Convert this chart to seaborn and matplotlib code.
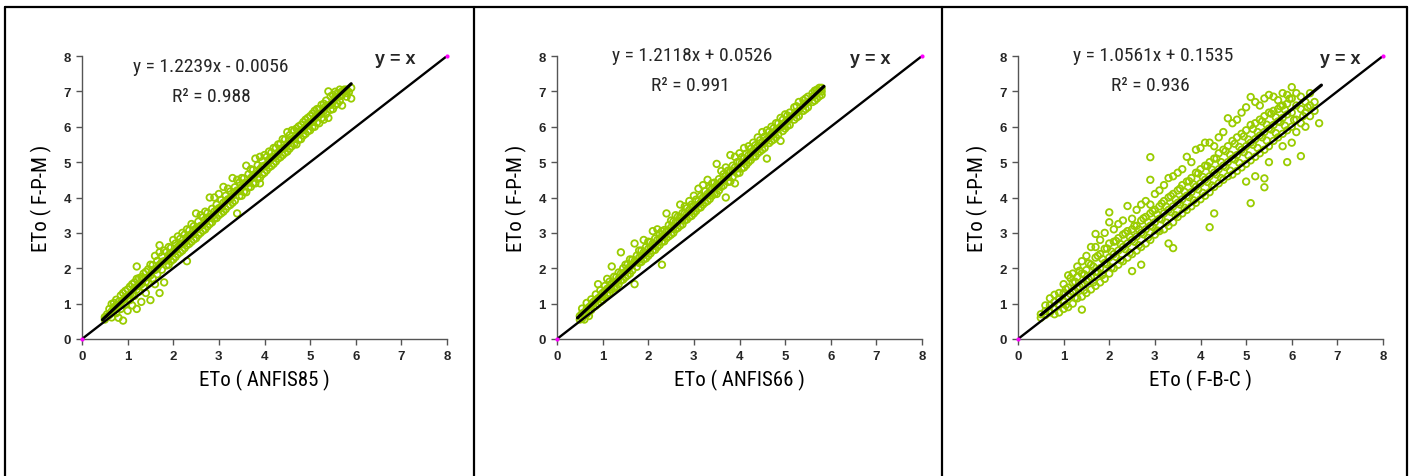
import matplotlib
matplotlib.use("Agg")
import matplotlib.pyplot as plt
import seaborn as sns
import pandas as pd
from matplotlib import font_manager as fm
from matplotlib.lines import Line2D

# ---------------- data ----------------
x_labels = ["ETo ( ANFIS85 )", "ETo ( ANFIS66 )", "ETo ( F-B-C )"]
y_label = "ETo ( F-P-M )"
equations = ["y = 1.2239x - 0.0056", "y = 1.2118x + 0.0526", "y = 1.0561x + 0.1535"]
r2_texts = ["R² = 0.988", "R² = 0.991", "R² = 0.936"]
slopes = [1.2239, 1.2118, 1.0561]
intercepts = [-0.0056, 0.0526, 0.1535]
fit_ranges = [(0.45, 5.9), (0.45, 5.85), (0.5, 6.65)]
identity_x = [0, 8]
ticks = [0, 1, 2, 3, 4, 5, 6, 7, 8]

# panel 1 (ANFIS85) - grouped columns of points
p1_xg = [0.5, 0.6, 0.7, 0.8, 0.9, 1.0, 1.1, 1.2, 1.3, 1.4, 1.5, 1.6, 1.7, 1.8, 1.9,
         2.0, 2.1, 2.2, 2.3, 2.4, 2.5, 2.6, 2.7, 2.8, 2.9, 3.0, 3.1, 3.2, 3.3, 3.4,
         3.5, 3.6, 3.7, 3.8, 3.9, 4.0, 4.1, 4.2, 4.3, 4.4, 4.5, 4.6, 4.7, 4.8, 4.9,
         5.0, 5.1, 5.2, 5.3, 5.4, 5.5, 5.6, 5.7, 5.8, 5.9]
p1_yg = [[0.55, 0.62], [0.85, 0.68], [1.02, 0.80, 0.90], [1.05, 0.60, 0.95],
         [1.30, 0.52, 1.10], [1.40, 1.15, 0.80], [1.55, 1.25, 0.95], [1.70, 1.40, 2.05, 0.85],
         [1.75, 1.55, 1.05], [1.90, 1.62, 1.30], [2.10, 1.80, 1.10], [2.35, 1.95, 1.55],
         [2.65, 2.10, 1.30, 2.45], [2.50, 2.20, 1.60], [2.60, 2.30, 2.10], [2.80, 2.45, 2.25],
         [2.90, 2.60, 2.40], [3.00, 2.70, 2.50], [3.10, 2.85, 2.20, 2.65], [3.25, 2.95, 2.75],
         [3.55, 3.10, 2.85], [3.50, 3.20, 3.00], [3.60, 3.30, 3.10], [4.00, 3.45, 3.25],
         [4.00, 3.60, 3.40], [4.10, 3.70, 3.50], [4.30, 3.85, 3.60], [4.25, 3.95, 3.75],
         [4.55, 4.05, 3.85], [4.50, 4.20, 3.55], [4.55, 4.30, 4.05], [4.90, 4.40, 4.15],
         [4.80, 4.55, 4.30], [5.10, 4.65, 4.40], [5.15, 4.80, 4.40, 4.55], [5.20, 4.90, 4.70],
         [5.30, 5.05, 4.85], [5.40, 5.15, 4.95], [5.50, 5.25, 5.10], [5.65, 5.40, 5.20],
         [5.85, 5.50, 5.30], [5.90, 5.65, 5.45], [5.95, 5.75, 5.50], [6.05, 5.90, 5.65],
         [6.20, 6.00, 5.80], [6.30, 6.10, 5.90], [6.45, 6.25, 6.00], [6.50, 6.35, 6.10],
         [6.65, 6.45, 6.20], [7.00, 6.60, 6.25], [6.90, 6.70, 6.50], [6.95, 6.85, 6.65],
         [7.00, 6.90, 6.60], [7.05, 6.95, 6.85], [7.10, 6.80]]
p1_core_x = [0.55, 0.65, 0.75, 0.85, 0.95, 1.05, 1.15, 1.25, 1.35, 1.45, 1.55, 1.65, 1.75,
             1.85, 1.95, 2.05, 2.15, 2.25, 2.35, 2.45, 2.55, 2.65, 2.75, 2.85, 2.95, 3.05,
             3.15, 3.25, 3.35, 3.45, 3.55, 3.65, 3.75, 3.85, 3.95, 4.05, 4.15, 4.25, 4.35,
             4.45, 4.55, 4.65, 4.75, 4.85, 4.95, 5.05, 5.15, 5.25, 5.35, 5.45, 5.55, 5.65,
             5.75, 5.85]
p1_core_y = [0.70, 0.78, 0.95, 1.02, 1.18, 1.25, 1.45, 1.50, 1.70, 1.75, 1.95, 2.00, 2.18,
             2.22, 2.42, 2.50, 2.68, 2.72, 2.92, 2.97, 3.15, 3.22, 3.40, 3.45, 3.65, 3.70,
             3.90, 3.95, 4.15, 4.18, 4.40, 4.42, 4.63, 4.68, 4.88, 4.92, 5.12, 5.16, 5.37,
             5.40, 5.62, 5.65, 5.86, 5.90, 6.10, 6.14, 6.35, 6.38, 6.60, 6.62, 6.84, 6.86,
             7.05, 6.98]
p1_band_x = [0.65, 0.75, 0.85, 0.95, 1.05, 1.15, 1.25, 1.35, 1.45, 1.55, 1.65, 1.75, 1.85,
             1.95, 2.05, 2.15, 2.25, 2.35, 2.45, 2.55, 2.65, 2.75, 2.85, 2.95, 3.05, 3.15,
             3.25, 3.35, 3.45, 3.55, 3.65, 3.75, 3.85, 3.95, 4.05, 4.15, 4.25, 4.35, 4.45,
             4.55, 4.65, 4.75, 4.85, 4.95, 5.05, 5.15, 5.25, 5.35, 5.45, 5.55, 5.65]
p1_band_hi = [0.99, 1.11, 1.23, 1.36, 1.48, 1.60, 1.72, 1.85, 1.97, 2.09, 2.21, 2.34, 2.46,
              2.58, 2.70, 2.83, 2.95, 3.07, 3.19, 3.32, 3.44, 3.56, 3.68, 3.80, 3.93, 4.05,
              4.17, 4.29, 4.42, 4.54, 4.66, 4.78, 4.91, 5.03, 5.15, 5.27, 5.40, 5.52, 5.64,
              5.76, 5.89, 6.01, 6.13, 6.25, 6.37, 6.50, 6.62, 6.74, 6.86, 6.99, 7.05]
p1_band_lo = [0.61, 0.73, 0.85, 0.98, 1.10, 1.22, 1.34, 1.47, 1.59, 1.71, 1.83, 1.96, 2.08,
              2.20, 2.32, 2.45, 2.57, 2.69, 2.81, 2.94, 3.06, 3.18, 3.30, 3.42, 3.55, 3.67,
              3.79, 3.91, 4.04, 4.16, 4.28, 4.40, 4.53, 4.65, 4.77, 4.89, 5.02, 5.14, 5.26,
              5.38, 5.51, 5.63, 5.75, 5.87, 5.99, 6.12, 6.24, 6.36, 6.48, 6.61, 6.73]

# panel 2 (ANFIS66)
p2_xg = [0.5, 0.6, 0.7, 0.8, 0.9, 1.0, 1.1, 1.2, 1.3, 1.4, 1.5, 1.6, 1.7, 1.8, 1.9,
         2.0, 2.1, 2.2, 2.3, 2.4, 2.5, 2.6, 2.7, 2.8, 2.9, 3.0, 3.1, 3.2, 3.3, 3.4,
         3.5, 3.6, 3.7, 3.8, 3.9, 4.0, 4.1, 4.2, 4.3, 4.4, 4.5, 4.6, 4.7, 4.8, 4.9,
         5.0, 5.1, 5.2, 5.3, 5.4, 5.5, 5.6, 5.7, 5.8]
p2_yg = [[0.55, 0.65], [0.75, 0.55], [0.90, 0.78, 0.65], [1.05, 0.90],
         [1.55, 1.15, 1.00], [1.30, 1.20, 1.10], [1.70, 1.42, 1.25], [2.05, 1.55, 1.40],
         [1.75, 1.62, 1.45], [2.45, 1.85, 1.65], [2.10, 1.90, 1.75], [2.25, 2.05, 1.85],
         [2.70, 2.20, 1.55], [2.50, 2.30, 2.15], [2.80, 2.45, 2.25], [2.75, 2.55, 2.35],
         [3.05, 2.70, 2.50], [3.10, 2.80, 2.60], [3.05, 2.90, 2.10, 2.75], [3.55, 3.05, 2.85],
         [3.35, 3.15, 2.95], [3.50, 3.30, 3.10], [3.80, 3.45, 3.20], [3.75, 3.55, 3.35],
         [3.90, 3.65, 3.45], [4.05, 3.75, 3.55], [4.25, 3.90, 3.70], [4.35, 4.00, 3.80],
         [4.50, 4.10, 3.90], [4.40, 4.25, 4.05], [4.95, 4.35, 4.10], [4.75, 4.45, 4.30],
         [4.85, 4.60, 4.00], [5.20, 4.75, 4.45], [5.15, 4.85, 4.40], [5.25, 5.00, 4.70],
         [5.40, 5.10, 4.85], [5.45, 5.20, 5.00], [5.55, 5.30, 5.15], [5.70, 5.45, 5.25],
         [5.85, 5.55, 5.35], [5.90, 5.65, 5.10], [6.00, 5.80, 5.60], [6.10, 5.90, 5.70],
         [6.25, 6.00, 5.60], [6.35, 6.10, 5.95], [6.40, 6.25, 6.05], [6.55, 6.35, 6.20],
         [6.70, 6.45, 6.30], [6.75, 6.60, 6.45], [6.85, 6.70, 6.55], [6.95, 6.85, 6.70],
         [7.05, 6.95, 6.80], [7.10, 7.00, 6.90]]
p2_core_x = [0.55, 0.65, 0.75, 0.85, 0.95, 1.05, 1.15, 1.25, 1.35, 1.45, 1.55, 1.65, 1.75,
             1.85, 1.95, 2.05, 2.15, 2.25, 2.35, 2.45, 2.55, 2.65, 2.75, 2.85, 2.95, 3.05,
             3.15, 3.25, 3.35, 3.45, 3.55, 3.65, 3.75, 3.85, 3.95, 4.05, 4.15, 4.25, 4.35,
             4.45, 4.55, 4.65, 4.75, 4.85, 4.95, 5.05, 5.25, 5.45, 5.65, 5.75]
p2_core_y = [0.72, 0.85, 0.96, 1.10, 1.20, 1.35, 1.45, 1.60, 1.70, 1.85, 1.94, 2.10, 2.18,
             2.34, 2.42, 2.58, 2.66, 2.82, 2.90, 3.06, 3.14, 3.30, 3.38, 3.54, 3.62, 3.78,
             3.86, 4.02, 4.10, 4.26, 4.34, 4.50, 4.58, 4.74, 4.82, 4.98, 5.06, 5.22, 5.30,
             5.46, 5.54, 5.70, 5.78, 5.94, 6.02, 6.18, 6.42, 6.66, 6.90, 7.02]
p2_band_hi = [0.86, 1.02, 1.12, 1.26, 1.38, 1.50, 1.62, 1.76, 1.88, 2.00, 2.12, 2.24, 2.36,
              2.50, 2.60, 2.74, 2.84, 2.98, 3.08, 3.22, 3.32, 3.46, 3.56, 3.70, 3.80, 3.94,
              4.04, 4.18, 4.28, 4.42, 4.52, 4.66, 4.76, 4.90, 5.00, 5.14, 5.24, 5.38, 5.48,
              5.62, 5.72, 5.86, 5.96, 6.10, 6.20, 6.32, 6.58, 6.80, 7.02, 7.10]
p2_band_lo = [0.58, 0.70, 0.82, 0.94, 1.05, 1.18, 1.30, 1.44, 1.55, 1.68, 1.80, 1.94, 2.04,
              2.18, 2.28, 2.42, 2.52, 2.66, 2.76, 2.90, 3.00, 3.14, 3.24, 3.38, 3.48, 3.62,
              3.72, 3.86, 3.96, 4.10, 4.20, 4.34, 4.44, 4.58, 4.68, 4.82, 4.92, 5.06, 5.16,
              5.30, 5.40, 5.54, 5.64, 5.78, 5.88, 6.02, 6.26, 6.50, 6.74, 6.86]

# panel 3 (F-B-C)
p3_xg = [0.5, 0.6, 0.7, 0.8, 0.9, 1.0, 1.1, 1.2, 1.3, 1.4, 1.5, 1.6, 1.7, 1.8, 1.9,
         2.0, 2.1, 2.2, 2.3, 2.4, 2.5, 2.6, 2.7, 2.8, 2.9, 3.0, 3.1, 3.2, 3.3, 3.4,
         3.5, 3.6, 3.7, 3.8, 3.9, 4.0, 4.1, 4.2, 4.3, 4.4, 4.5, 4.6, 4.7, 4.8, 4.9,
         5.0, 5.1, 5.2, 5.3, 5.4, 5.5, 5.6, 5.7, 5.8, 5.9, 6.0, 6.1, 6.2, 6.3, 6.4,
         6.5, 6.6]
p3_yg = [[0.60, 0.70], [0.95, 0.79, 0.68], [1.15, 0.95, 0.75], [1.25, 1.05, 0.85, 0.70],
         [1.30, 1.15, 0.95, 0.75], [1.55, 1.30, 1.05, 0.85], [1.80, 1.45, 1.20, 0.90],
         [1.85, 1.60, 1.35, 1.00], [2.05, 1.75, 1.45, 1.15], [2.20, 1.85, 1.55, 1.20, 0.83],
         [2.35, 1.95, 1.65, 1.30], [2.60, 2.10, 1.75, 1.40], [2.97, 2.30, 1.90, 1.50, 2.60],
         [2.80, 2.40, 2.00, 1.60], [3.00, 2.55, 2.15, 1.70], [3.58, 2.70, 2.30, 1.85, 3.30],
         [3.10, 2.75, 2.40, 2.00], [3.25, 2.85, 2.50, 2.10], [3.35, 2.95, 2.60, 2.20],
         [3.76, 3.05, 2.70, 2.30], [3.40, 3.10, 2.80, 2.40, 1.92], [3.65, 3.20, 2.90, 2.50],
         [3.80, 3.35, 3.00, 2.60, 2.10], [3.90, 3.45, 3.10, 2.70],
         [5.14, 3.80, 3.55, 3.20, 2.80, 4.50], [4.10, 3.65, 3.30, 2.95],
         [4.20, 3.75, 3.40, 3.05], [4.35, 3.90, 3.55, 3.10], [4.55, 4.00, 3.65, 3.20, 2.70],
         [4.60, 4.10, 3.75, 3.30, 2.57], [4.70, 4.20, 3.85, 3.45], [4.80, 4.35, 3.95, 3.55],
         [5.15, 4.45, 4.05, 3.65], [5.00, 4.55, 4.15, 3.75], [5.35, 4.70, 4.30, 3.85],
         [5.40, 4.80, 4.40, 3.95], [5.55, 4.90, 4.50, 4.05], [5.55, 5.00, 4.60, 4.15, 3.16],
         [5.45, 5.10, 4.70, 4.30, 3.55], [5.70, 5.25, 4.80, 4.40], [5.85, 5.35, 4.90, 4.50],
         [6.24, 5.45, 5.00, 4.60], [6.10, 5.60, 5.10, 4.65], [6.20, 5.70, 5.20, 4.75],
         [6.40, 5.80, 5.35, 4.85], [6.55, 5.90, 5.45, 4.95, 4.45],
         [6.84, 6.05, 5.55, 5.05, 3.84], [6.70, 6.10, 5.65, 5.15, 4.60],
         [6.60, 6.20, 5.75, 5.25], [6.80, 6.30, 5.85, 5.35, 4.29, 4.54],
         [6.90, 6.40, 5.95, 5.45, 5.00], [6.85, 6.45, 6.05, 5.60], [6.75, 6.50, 6.15, 5.70],
         [6.95, 6.60, 6.25, 5.80, 5.45], [6.90, 6.65, 6.35, 5.90, 5.00],
         [7.12, 6.80, 6.40, 6.00, 5.55], [6.95, 6.60, 6.20, 5.85], [6.85, 6.50, 6.10, 5.17],
         [6.70, 6.40, 6.00], [6.95, 6.60, 6.30], [6.70, 6.45], [6.10]]
p3_core_x = [1.05, 1.15, 1.25, 1.35, 1.45, 1.55, 1.65, 1.75, 1.85, 1.95, 2.05, 2.15, 2.25,
             2.35, 2.45, 2.55, 2.65, 2.75, 2.85, 2.95, 3.05, 3.15, 3.25, 3.35, 3.45, 3.55,
             3.65, 3.75, 3.85, 3.95, 4.05, 4.15, 4.25, 4.35, 4.45, 4.55, 4.65, 4.75, 4.85,
             4.95, 5.05, 5.15, 5.25, 5.35, 5.45, 5.55, 5.65, 5.75, 5.85]
p3_core_y = [1.41, 1.27, 1.62, 1.48, 1.83, 1.69, 2.05, 1.90, 2.26, 2.11, 2.47, 2.32, 2.68,
             2.54, 2.89, 2.75, 3.10, 2.96, 3.31, 3.17, 3.52, 3.38, 3.74, 3.59, 3.95, 3.80,
             4.16, 4.01, 4.37, 4.23, 4.58, 4.44, 4.79, 4.65, 5.00, 4.86, 5.21, 5.07, 5.43,
             5.28, 5.64, 5.49, 5.85, 5.70, 6.06, 5.92, 6.27, 6.13, 6.48]
p3_extra_x = [1.05, 1.15, 1.25, 1.35, 1.45, 1.55, 1.65, 1.75, 1.85, 1.95, 2.05, 2.15, 2.25,
              2.35, 2.45, 2.55, 2.65, 2.75, 2.85, 2.95, 3.05, 3.15, 3.25, 3.35, 3.45, 3.55,
              3.65, 3.75, 3.85, 3.95, 4.05, 4.15, 4.25, 4.35, 4.45, 4.55, 4.65, 4.75, 4.85,
              4.95, 5.05, 5.15, 5.25, 5.35, 5.45, 5.55, 5.65, 5.75, 5.85, 5.95, 6.05, 6.25,
              6.35]
p3_extra_y = [0.96, 1.72, 1.17, 1.93, 1.38, 2.14, 1.60, 2.35, 1.81, 2.56, 2.02, 2.77, 2.23,
              2.99, 2.44, 3.20, 2.65, 3.41, 2.86, 3.62, 3.07, 3.83, 3.29, 4.04, 3.50, 4.25,
              3.71, 4.46, 3.92, 4.68, 4.13, 4.89, 4.34, 5.10, 4.55, 5.31, 4.76, 5.52, 4.98,
              5.73, 5.19, 5.94, 5.40, 6.15, 5.61, 6.37, 5.82, 6.58, 6.03, 6.79, 6.19, 6.30,
              6.55]

panels = [
    (p1_xg, p1_yg, [(p1_core_x, p1_core_y), (p1_band_x, p1_band_hi), (p1_band_x, p1_band_lo)]),
    (p2_xg, p2_yg, [(p2_core_x, p2_core_y), (p2_core_x, p2_band_hi), (p2_core_x, p2_band_lo)]),
    (p3_xg, p3_yg, [(p3_core_x, p3_core_y), (p3_extra_x, p3_extra_y)]),
]

eq_pos = [(2.83, 7.72), (2.96, 8.02), (2.96, 8.02)]
r2_pos = [(2.83, 6.88), (2.92, 7.18), (2.90, 7.18)]
yx_pos = [(6.86, 7.92), (6.86, 7.92), (7.06, 7.92)]

# ---------------- style ----------------
sns.set_style("white")


def pick(names):
    for n in names:
        try:
            fm.findfont(fm.FontProperties(family=n), fallback_to_default=False)
            return n
        except Exception:
            pass
    return "DejaVu Sans"


narrow = pick(["Liberation Sans Narrow", "Roboto Condensed", "Liberation Sans"])
regular = pick(["Liberation Sans", "Arial", "DejaVu Sans"])
plt.rcParams["font.family"] = [regular, "DejaVu Sans"]

GREEN = "#99CC00"

fig = plt.figure(figsize=(14.16, 4.77), dpi=100)
lefts = [82 / 1416, 557 / 1416, 1018 / 1416]
bottom = 137 / 477
width = 365 / 1416
height = 283 / 477

for i, (xg, yg, extras) in enumerate(panels):
    ax = fig.add_axes([lefts[i], bottom, width, height])
    xs, ys = [], []
    for xv, yl in zip(xg, yg):
        for yv in yl:
            xs.append(xv)
            ys.append(yv)
    for ex, ey in extras:
        xs += list(ex)
        ys += list(ey)
    df = pd.DataFrame({"x": xs, "y": ys})
    sns.scatterplot(data=df, x="x", y="y", ax=ax, marker="o", s=22,
                    facecolors="none", edgecolor=GREEN, linewidth=1.3, zorder=2)

    idf = pd.DataFrame({"x": identity_x, "y": identity_x})
    sns.lineplot(data=idf, x="x", y="y", ax=ax, color="black", linewidth=1.7, zorder=3)
    ax.scatter(identity_x, identity_x, s=4, color="#FF00FF", zorder=4, clip_on=False)

    x0, x1 = fit_ranges[i]
    fdf = pd.DataFrame({"x": [x0, x1],
                        "y": [slopes[i] * x0 + intercepts[i], slopes[i] * x1 + intercepts[i]]})
    sns.lineplot(data=fdf, x="x", y="y", ax=ax, color="black", linewidth=2.3, zorder=4)

    ax.set_xlim(0, 8)
    ax.set_ylim(0, 8)
    ax.set_xticks(ticks)
    ax.set_yticks(ticks)
    ax.set_xticklabels([str(t) for t in ticks], fontweight="bold", fontsize=9.5, family=regular)
    ax.set_yticklabels([str(t) for t in ticks], fontweight="bold", fontsize=9.5, family=regular)
    ax.tick_params(axis="both", direction="out", length=4, width=1, color="#555555",
                   bottom=True, left=True, pad=4)
    for s in ["top", "right"]:
        ax.spines[s].set_visible(False)
    for s in ["left", "bottom"]:
        ax.spines[s].set_color("#555555")
        ax.spines[s].set_linewidth(1.0)
    ax.set_xlabel(x_labels[i], fontsize=15, family=narrow, labelpad=5, color="black")
    ax.set_ylabel(y_label, fontsize=15, family=narrow, labelpad=8, color="black")

    ax.text(*eq_pos[i], equations[i], ha="center", va="center", fontsize=14, family=narrow)
    ax.text(*r2_pos[i], r2_texts[i], ha="center", va="center", fontsize=14, family=narrow)
    ax.text(*yx_pos[i], "y = x", ha="center", va="center", fontsize=13,
            fontweight="bold", family=regular)

# frame lines
lw = 1.6
top_y = 1 - 8 / 477
for xp in [5 / 1416, 474 / 1416, 942 / 1416, 1407 / 1416]:
    fig.add_artist(Line2D([xp, xp], [0, top_y], color="black", linewidth=lw,
                          transform=fig.transFigure))
fig.add_artist(Line2D([5 / 1416, 1407 / 1416], [top_y, top_y], color="black", linewidth=lw,
                      transform=fig.transFigure))

fig.savefig("out.png", dpi=100)
